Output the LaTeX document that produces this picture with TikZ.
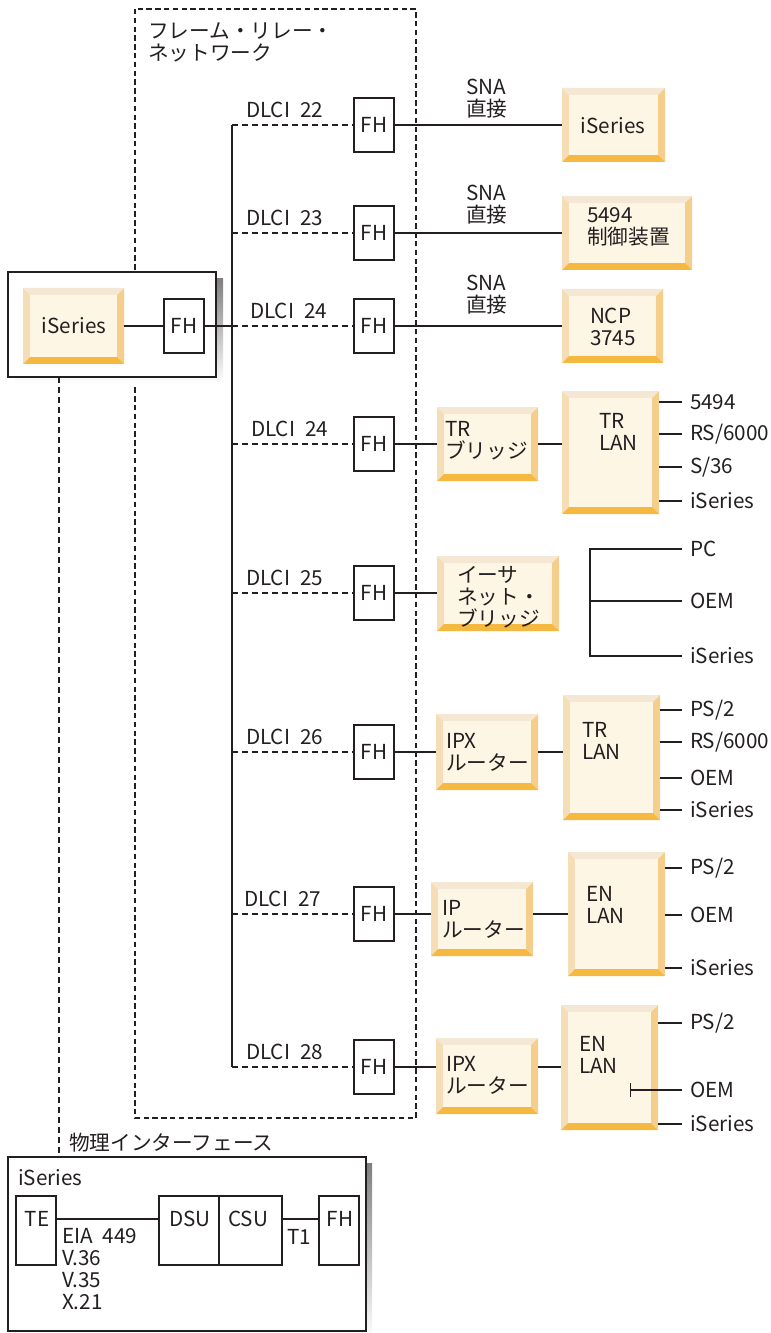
\documentclass[tikz,border=0pt]{standalone}
\usepackage{fontspec}
\setmainfont{Noto Sans CJK JP}[WordSpace=2.2]
\usetikzlibrary{fit,arrows.meta}

\definecolor{ink}{RGB}{35,31,32}
\definecolor{bvfill}{RGB}{253,246,228}
\definecolor{bvtop}{RGB}{244,232,212}
\definecolor{bvleft}{RGB}{245,222,182}
\definecolor{bvright}{RGB}{246,206,140}
\definecolor{bvbot}{RGB}{245,184,64}
\definecolor{shade}{RGB}{224,224,226}

\tikzset{every picture/.style={line width=1pt}}
\tikzset{
  lbl/.style={inner sep=0pt, outer sep=0pt, text=ink, font=\fontsize{15.5}{16.5}\selectfont, align=left},
  tag/.style={lbl, anchor=west, inner xsep=6pt},
  fhbox/.style={draw=ink, fill=white, inner sep=0pt, minimum width=30pt, minimum height=40.5pt, text=ink, font=\fontsize{15.5}{16.5}\selectfont},
  hold/.style={inner sep=0pt, outer sep=0pt},
  dlci/.style={draw=ink, dash pattern=on 4.5pt off 3pt},
  frame/.style={draw=ink, line width=0.8pt, dash pattern=on 4pt off 2.6pt},
}

% bevelled box: name, x1, y1, x2, y2
\newcommand{\bevbox}[5]{%
  \fill[bvtop] (#2,#3) -- (#4,#3) -- (#4-7,#3+7) -- (#2+7,#3+7) -- cycle;
  \fill[bvleft] (#2,#3) -- (#2+7,#3+7) -- (#2+7,#5-7) -- (#2,#5) -- cycle;
  \fill[bvright] (#4,#3) -- (#4,#5) -- (#4-7,#5-7) -- (#4-7,#3+7) -- cycle;
  \fill[bvbot] (#2,#5) -- (#4,#5) -- (#4-7,#5-7) -- (#2+7,#5-7) -- cycle;
  \fill[bvfill] (#2+7,#3+7) rectangle (#4-7,#5-7);
  \node[hold, fit={(#2,#3) (#4,#5)}] (#1) {};
}

\begin{document}
\begin{tikzpicture}[x=0.75pt,y=0.75pt,yscale=-1,xscale=1, color=ink]
\useasboundingbox (0,0) rectangle (770,1333);

%Frame relay network
\draw[frame] (135,9) rectangle (416,1118);
% Text Node
\node[lbl, anchor=west] (net) at (148,42) {フレーム・リレー・\\ネットワーク};

%Host system
\fill[shade] (15,279) rectangle (223,384);
\node[hold, draw, fill=white, fit={(8,272) (216,377)}] (host) {};
\bevbox{hsys}{23}{288}{124}{364}
\node[lbl] (hsyst) at (74,326) {iSeries};
\node[fhbox] (hfh) at (184,326) {FH};
\draw (hsys.east) -- (hfh.west);

%Trunk
\coordinate (tk) at (232,125);
\coordinate (tkb) at (232,1067);
\draw (tk) -- (tkb);
\draw (hfh.east) -- (hfh.east -| tk);

%Row DLCI 22
\node[fhbox] (fh1) at (374,125) {FH};
\node[lbl, anchor=west] (d1) at (246,110) {DLCI 22};
\draw[dlci] (fh1.west -| tk) -- (fh1.west);
\bevbox{sys1}{562}{88}{665}{162}
\node[lbl] (sys1t) at (613,126) {iSeries};
\node[lbl, anchor=west] (sna1) at (466,99) {SNA\\直接};
\draw (fh1.east) -- (fh1.east -| sys1.west);

%Row DLCI 23
\node[fhbox] (fh2) at (374,233) {FH};
\node[lbl, anchor=west] (d2) at (246,218) {DLCI 23};
\draw[dlci] (fh2.west -| tk) -- (fh2.west);
\bevbox{ctl2}{562}{196}{692}{270}
\node[lbl, anchor=west] (ctl2t) at (587,227) {5494\\制御装置};
\node[lbl, anchor=west] (sna2) at (466,205) {SNA\\直接};
\draw (fh2.east) -- (fh2.east -| ctl2.west);

%Row DLCI 24
\node[fhbox] (fh3) at (374,326) {FH};
\node[lbl, anchor=west] (d3) at (250,311) {DLCI 24};
\draw[dlci] (fh3.west -| tk) -- (fh3.west);
\bevbox{ncp3}{562}{289}{663}{363}
\node[lbl, anchor=west] (ncp3t) at (590,327) {NCP\\3745};
\node[lbl, anchor=west] (sna3) at (466,295) {SNA\\直接};
\draw (fh3.east) -- (fh3.east -| ncp3.west);

%Row DLCI 24, TR bridge
\node[fhbox] (fh4) at (374,444) {FH};
\node[lbl, anchor=west] (d4) at (251,429) {DLCI 24};
\draw[dlci] (fh4.west -| tk) -- (fh4.west);
\bevbox{brg4}{437}{407}{538}{481}
\node[lbl, anchor=west] (brg4t) at (445,441) {TR\\ブリッジ};
\bevbox{lan4}{562}{391}{659}{514}
\node[lbl, anchor=west] (lan4t) at (599,432) {TR\\LAN};
\draw (fh4.east) -- (fh4.east -| brg4.west);
\draw (brg4.east |- fh4.east) -- (fh4.east -| lan4.west);
\node[tag] (t4a) at (682,402) {5494};
\node[tag] (t4b) at (682,434) {RS/6000};
\node[tag] (t4c) at (682,467) {S/36};
\node[tag] (t4d) at (682,501) {iSeries};
\draw (lan4.east |- t4a.west) -- (t4a.west);
\draw (lan4.east |- t4b.west) -- (t4b.west);
\draw (lan4.east |- t4c.west) -- (t4c.west);
\draw (lan4.east |- t4d.west) -- (t4d.west);

%Row DLCI 25, Ethernet bridge
\node[fhbox] (fh5) at (374,593) {FH};
\node[lbl, anchor=west] (d5) at (246,578) {DLCI 25};
\draw[dlci] (fh5.west -| tk) -- (fh5.west);
\bevbox{brg5}{437}{556}{559}{631}
\node[lbl, anchor=west] (brg5t) at (457,597) {イーサ\\ネット・\\ブリッジ};
\draw (fh5.east) -- (fh5.east -| brg5.west);
\coordinate (br5) at (590,601);
\node[tag] (t5a) at (682,549) {PC};
\node[tag] (t5b) at (682,601) {OEM};
\node[tag] (t5c) at (682,656) {iSeries};
\draw (t5a.west) -- (t5a.west -| br5) -- (t5c.west -| br5) -- (t5c.west);
\draw (br5) -- (t5b.west);

%Row DLCI 26, IPX router
\node[fhbox] (fh6) at (374,752) {FH};
\node[lbl, anchor=west] (d6) at (246,737) {DLCI 26};
\draw[dlci] (fh6.west -| tk) -- (fh6.west);
\bevbox{rtr6}{436}{714}{538}{790}
\node[lbl, anchor=west] (rtr6t) at (446,752) {IPX\\ルーター};
\bevbox{lan6}{563}{695}{660}{820}
\node[lbl, anchor=west] (lan6t) at (582,741) {TR\\LAN};
\draw (fh6.east) -- (fh6.east -| rtr6.west);
\draw (rtr6.east |- fh6.east) -- (fh6.east -| lan6.west);
\node[tag] (t6a) at (682,710) {PS/2};
\node[tag] (t6b) at (682,742) {RS/6000};
\node[tag] (t6c) at (682,778) {OEM};
\node[tag] (t6d) at (682,810) {iSeries};
\draw (lan6.east |- t6a.west) -- (t6a.west);
\draw (lan6.east |- t6b.west) -- (t6b.west);
\draw (lan6.east |- t6c.west) -- (t6c.west);
\draw (lan6.east |- t6d.west) -- (t6d.west);

%Row DLCI 27, IP router
\node[fhbox] (fh7) at (374,914) {FH};
\node[lbl, anchor=west] (d7) at (244,899) {DLCI 27};
\draw[dlci] (fh7.west -| tk) -- (fh7.west);
\bevbox{rtr7}{431}{882}{533}{956}
\node[lbl, anchor=west] (rtr7t) at (442,919) {IP\\ルーター};
\bevbox{lan7}{568}{852}{665}{976}
\node[lbl, anchor=west] (lan7t) at (586,905) {EN\\LAN};
\draw (fh7.east) -- (fh7.east -| rtr7.west);
\draw (rtr7.east |- fh7.east) -- (fh7.east -| lan7.west);
\node[tag] (t7a) at (682,868) {PS/2};
\node[tag] (t7b) at (682,915) {OEM};
\node[tag] (t7c) at (682,968) {iSeries};
\draw (lan7.east |- t7a.west) -- (t7a.west);
\draw (lan7.east |- t7b.west) -- (t7b.west);
\draw (lan7.east |- t7c.west) -- (t7c.west);

%Row DLCI 28, IPX router
\node[fhbox] (fh8) at (374,1067) {FH};
\node[lbl, anchor=west] (d8) at (246,1052) {DLCI 28};
\draw[dlci] (fh8.west -| tk) -- (fh8.west);
\bevbox{rtr8}{436}{1038}{538}{1114}
\node[lbl, anchor=west] (rtr8t) at (446,1075) {IPX\\ルーター};
\bevbox{lan8}{561}{1005}{658}{1130}
\node[lbl, anchor=west] (lan8t) at (579,1055) {EN\\LAN};
\draw (fh8.east) -- (fh8.east -| rtr8.west);
\draw (rtr8.east |- fh8.east) -- (fh8.east -| lan8.west);
\node[tag] (t8a) at (682,1023) {PS/2};
\node[tag] (t8b) at (682,1090) {OEM};
\node[tag] (t8c) at (682,1124) {iSeries};
\coordinate (k8) at (630,1090);
\draw (lan8.east |- t8a.west) -- (t8a.west);
\draw[{Bar[width=10.5pt]}-] (k8) -- (t8b.west);
\draw (lan8.east |- t8c.west) -- (t8c.west);

%Physical interface
\fill[shade] (14,1163) rectangle (372,1340);
\node[hold, draw, fill=white, fit={(8,1157) (366,1331)}] (phys) {};
\node[lbl, anchor=west] (physt) at (69,1143) {物理インターフェース};
\coordinate (pv) at (59,0);
\draw[dlci] (host.south -| pv) -- (phys.north -| pv);
\node[lbl, anchor=west] (psys) at (18,1178) {iSeries};
\node[hold, draw, fit={(16,1196) (56,1265)}] (te) {};
\node[hold, draw, fit={(159,1196) (219,1265)}] (dsu) {};
\node[hold, draw, fit={(219,1196) (282,1265)}] (csu) {};
\node[hold, draw, fit={(319,1196) (359,1265)}] (pfh) {};
\node[lbl] (tet) at (37,1219) {TE};
\node[lbl] (dsut) at (190,1219) {DSU};
\node[lbl] (csut) at (248,1219) {CSU};
\node[lbl] (pfht) at (340,1219) {FH};
\coordinate (pl) at (0,1219);
\draw (te.east |- pl) -- (dsu.west |- pl);
\draw (csu.east |- pl) -- (pfh.west |- pl);
\node[lbl, anchor=west] (t1) at (287,1237) {T1};
\node[lbl, anchor=west] (eia) at (62,1269) {EIA 449\\V.36\\V.35\\X.21};

\end{tikzpicture}
\end{document}
